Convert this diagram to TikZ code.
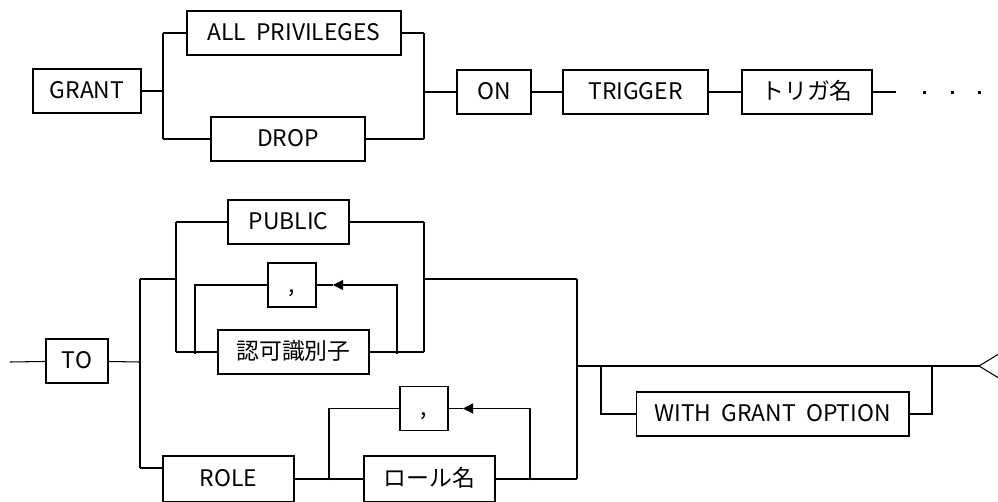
\documentclass[tikz,border=0pt]{standalone}
\usepackage{fontspec}
\setmainfont{Noto Sans CJK JP}
\usetikzlibrary{arrows.meta}

\begin{document}
\begin{tikzpicture}[x=0.02cm, y=-0.02cm, line width=0.6pt,
        kw/.style={draw, minimum height=0.88cm, inner sep=0pt, text height=9.5pt, text depth=1pt,
            font=\fontsize{13}{15}\selectfont},
        back/.style={-{Triangle[length=0.2cm, width=0.2cm]}}]
        \useasboundingbox (0,0) rectangle (998,501);

        % GRANT ... ON TRIGGER
        \node[kw, minimum width=2.16cm] (grant)   at (87,91)    {GRANT};
        \node[kw, minimum width=4.28cm] (allpriv) at (294,33)   {ALL\ \ PRIVILEGES};
        \node[kw, minimum width=3.08cm] (drop)    at (288,139)  {DROP};
        \node[kw, minimum width=1.48cm] (on)      at (494,92)   {ON};
        \node[kw, minimum width=2.90cm] (trigger) at (635.5,92) {TRIGGER};
        \node[kw, minimum width=2.60cm] (trgname) at (807,92)   {トリガ名};

        \coordinate (splitA) at (163,91);
        \coordinate (joinA)  at (424,92);
        \coordinate (contA)  at (896,92);

        \draw (grant) -- (splitA);
        \draw (splitA |- allpriv) -- (splitA |- drop);
        \draw (splitA |- allpriv) -- (allpriv);
        \draw (splitA |- drop) -- (drop);
        \draw (allpriv) -- (joinA |- allpriv);
        \draw (drop) -- (joinA |- drop);
        \draw (joinA |- allpriv) -- (joinA |- drop);
        \draw (joinA) -- (on);
        \draw (on) -- (trigger);
        \draw (trigger) -- (trgname);
        \draw (trgname) -- (contA);
        \foreach \x in {924,952,979}
            \fill (\x-1.5,90.5) rectangle (\x+1.5,93.5);

        % TO ... WITH GRANT OPTION
        \coordinate (start) at (10,362);
        \node[kw, minimum width=1.24cm] (to)     at (77,361)     {TO};
        \node[kw, minimum width=2.42cm] (public) at (288.5,222)  {PUBLIC};
        \node[kw, minimum width=0.96cm] (commaA) at (292,285)    {,};
        \node[kw, minimum width=3.02cm] (authid) at (293.5,352)  {認可識別子};
        \node[kw, minimum width=2.62cm, minimum height=0.92cm] (role)   at (228.5,479) {ROLE};
        \node[kw, minimum width=0.96cm] (commaB) at (424,408.5)  {,};
        \node[kw, minimum width=2.62cm, minimum height=0.92cm] (rolname) at (429.5,479) {ロール名};
        \node[kw, minimum width=5.46cm] (wgo)    at (772.5,414)  {WITH\ \ GRANT\ \ OPTION};

        \coordinate (splitB)  at (140,362);
        \coordinate (upperB)  at (140,279);
        \coordinate (lowerB)  at (140,468);
        \coordinate (splitC)  at (176,279);
        \coordinate (loopAl)  at (195,354);
        \coordinate (loopAr)  at (397,354);
        \coordinate (joinC)   at (424,279);
        \coordinate (loopBl)  at (329,480);
        \coordinate (loopBr)  at (530,480);
        \coordinate (joinB)   at (577,366);
        \coordinate (optL)    at (601,366);
        \coordinate (optR)    at (932,366);
        \coordinate (finish)  at (979,366);

        \draw (start) -- (to);
        \draw (to) -- (splitB);
        \draw (upperB) -- (lowerB);
        \draw (upperB) -- (splitC);
        \draw (splitC |- public) -- (splitC |- authid);
        \draw (splitC |- public) -- (public);
        \draw (splitC |- authid) -- (authid);
        \draw (loopAl) -- (loopAl |- commaA) -- (commaA);
        \draw[back] (loopAr) -- (loopAr |- commaA) -- (333,285);
        \draw (333,285) -- (commaA);
        \draw (authid) -- (joinC |- authid);
        \draw (public) -- (joinC |- public);
        \draw (joinC |- public) -- (joinC |- authid);
        \draw (joinC) -- (joinB |- joinC);
        \draw (lowerB) -- (lowerB -| role.west);
        \draw (role) -- (rolname);
        \draw (loopBl) -- (loopBl |- commaB) -- (commaB);
        \draw[back] (loopBr) -- (loopBr |- commaB) -- (463,408.5);
        \draw (463,408.5) -- (commaB);
        \draw (rolname) -- (joinB |- rolname);
        \draw (joinB |- joinC) -- (joinB |- rolname);
        \draw (joinB) -- (finish);
        \draw (optL) -- (optL |- wgo) -- (wgo);
        \draw (wgo) -- (optR |- wgo) -- (optR);
        \draw (finish) -- (1002,352) -- (1002,380) -- cycle;
    \end{tikzpicture}
\end{document}
